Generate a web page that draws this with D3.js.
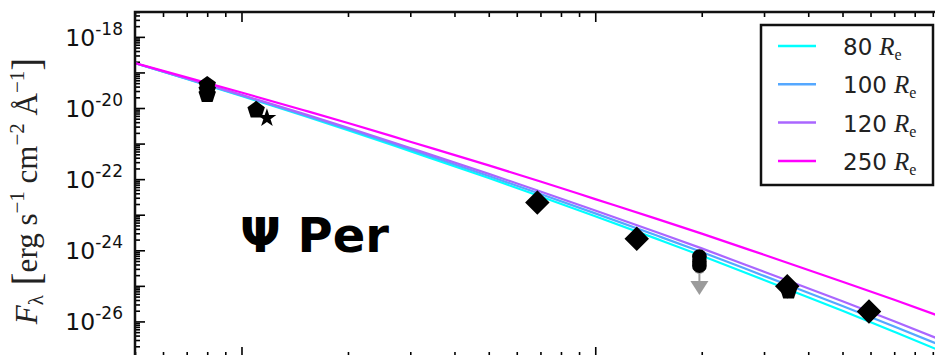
<!DOCTYPE html>
<html>
<head>
<meta charset="utf-8">
<script src="https://cdn.jsdelivr.net/npm/d3@7"></script>
<style>
  body { margin: 0; background: #fff; }
  svg { display: block; }
</style>
</head>
<body>
<svg id="chart" width="935" height="355"></svg>
<script>
// model wavelengths (cm) and model fluxes for each disk size
var modelWave = [0.05, 0.07, 0.1, 0.15, 0.2, 0.3, 0.5, 0.7, 1, 1.5, 2, 3, 5, 7, 10]
var model80 = [1.82e-19, 6.58e-20, 2.18e-20, 6.05e-21, 2.39e-21, 6.12e-22, 1.08e-22, 3.27e-23, 9.08e-24, 2.06e-24, 7.06e-25, 1.46e-25, 2.00e-26, 5.12e-27, 1.18e-27]
var model100 = [1.82e-19, 6.68e-20, 2.26e-20, 6.43e-21, 2.58e-21, 6.79e-22, 1.23e-22, 3.84e-23, 1.09e-23, 2.55e-24, 8.93e-25, 1.91e-25, 2.72e-26, 7.18e-27, 1.71e-27]
var model120 = [1.82e-19, 6.79e-20, 2.34e-20, 6.84e-21, 2.79e-21, 7.53e-22, 1.41e-22, 4.50e-23, 1.31e-23, 3.15e-24, 1.13e-24, 2.50e-25, 3.71e-26, 1.01e-26, 2.47e-27]
var model250 = [1.82e-19, 7.29e-20, 2.72e-20, 8.67e-21, 3.80e-21, 1.13e-21, 2.44e-22, 8.57e-23, 2.75e-23, 7.53e-24, 2.94e-24, 7.48e-25, 1.31e-25, 4.06e-26, 1.13e-26]
var seriesNames = ['80', '100', '120', '250']
var seriesColors = ['#00ffff', '#55a8ff', '#aa66ff', '#ff00ff']

// observed points
var obsWave = [0.080, 0.080, 0.080, 0.110, 0.118, 0.686, 1.31, 1.97, 1.97, 1.97, 3.49, 3.52, 5.94]
var obsFlux = [4.4e-20, 3.2e-20, 2.4e-20, 8.8e-21, 5.2e-21, 2.2e-23, 2.1e-24, 6.6e-25, 4.8e-25, 3.7e-25, 9.8e-26, 7.1e-26, 1.9e-26]
var obsMarker = ['pentagon', 'pentagon', 'pentagon', 'pentagon', 'star', 'diamond', 'diamond',
  'circle', 'circle', 'circle', 'diamond', 'pentagon', 'diamond']

// upper limit
var limWave = [1.97]
var limFlux = [3.2e-25]

var yLabelTicks = [1e-18, 1e-20, 1e-22, 1e-24, 1e-26]

var svg = d3.select('#chart')
var margin = { left: 135, right: 949, top: 12, bottom: 357 }

var x = d3.scaleLog().domain([0.05, 10]).range([margin.left, margin.right])
var y = d3.scaleLog().domain([1e-27, 5e-18]).range([margin.bottom, margin.top])

const isMajor = v => Math.abs(Math.log10(v) - Math.round(Math.log10(v))) < 1e-6

// ticks point inward on every side
function addTicks(axisFn, scale, transform, values, size) {
  svg.append('g').attr('transform', transform)
    .call(axisFn(scale).tickValues(values).tickSize(size).tickFormat(''))
    .call(g => g.select('.domain').remove())
    .selectAll('line').attr('stroke', '#000').attr('stroke-width', 1.6)
}
var xt = x.ticks(), yt = y.ticks(20)
var xMinor = xt.filter(v => !isMajor(v)), xMajor = xt.filter(isMajor)
var yMinor = yt.filter(v => !isMajor(v)), yMajor = yt.filter(isMajor)

addTicks(d3.axisTop, x, 'translate(0,' + margin.top + ')', xMinor, -5)
addTicks(d3.axisTop, x, 'translate(0,' + margin.top + ')', xMajor, -10)
addTicks(d3.axisBottom, x, 'translate(0,' + margin.bottom + ')', xMinor, -5)
addTicks(d3.axisBottom, x, 'translate(0,' + margin.bottom + ')', xMajor, -10)
addTicks(d3.axisLeft, y, 'translate(' + margin.left + ',0)', yMinor, -5)
addTicks(d3.axisLeft, y, 'translate(' + margin.left + ',0)', yMajor, -10)

// tick labels 10^-n
var labels = svg.append('g')
  .attr('font-family', 'DejaVu Sans, sans-serif')
  .attr('fill', '#111')
labels.selectAll('text').data(yLabelTicks).enter().append('text')
  .attr('x', margin.left - 12)
  .attr('y', d => y(d) + 9)
  .attr('text-anchor', 'end')
  .each(function (d) {
    var t = d3.select(this)
    t.append('tspan').attr('font-size', 23.5).text('10')
    t.append('tspan').attr('font-size', 17).attr('dy', -11).text(Math.round(Math.log10(d)))
  })

// y axis title
var ytitle = svg.append('text')
  .attr('transform', 'translate(37,191) rotate(-90)')
  .attr('text-anchor', 'middle')
  .attr('font-family', 'Liberation Serif, DejaVu Serif, serif')
  .attr('font-size', 31)
  .attr('fill', '#222')
ytitle.append('tspan').attr('font-style', 'italic').text('F')
ytitle.append('tspan').attr('font-size', 21).attr('dy', 6).text('λ')
ytitle.append('tspan').attr('font-size', 39).attr('dy', -3).text(' [')
ytitle.append('tspan').attr('dy', -3).text('erg s')
ytitle.append('tspan').attr('font-size', 21).attr('dy', -13).text('−1')
ytitle.append('tspan').attr('dy', 13).text(' cm')
ytitle.append('tspan').attr('font-size', 21).attr('dy', -13).text('−2')
ytitle.append('tspan').attr('dy', 13).text(' Å')
ytitle.append('tspan').attr('font-size', 21).attr('dy', -13).text('−1')
ytitle.append('tspan').attr('font-size', 39).attr('dy', 16).text(']')

// clip region
svg.append('clipPath').attr('id', 'clip')
  .append('rect').attr('x', margin.left).attr('y', margin.top)
  .attr('width', margin.right - margin.left).attr('height', margin.bottom - margin.top)

var models = [model80, model100, model120, model250]
var line = d3.line().x(d => x(d[0])).y(d => y(d[1])).curve(d3.curveMonotoneX)
svg.append('g').attr('clip-path', 'url(#clip)')
  .selectAll('path').data(models).enter().append('path')
  .attr('d', m => line(modelWave.map((w, i) => [w, m[i]])))
  .attr('fill', 'none')
  .attr('stroke', (m, i) => seriesColors[i])
  .attr('stroke-width', 2.2)

// upper limit arrow (grey)
var lim = svg.append('g').attr('fill', '#8a8a8a').attr('stroke', '#8a8a8a').attr('opacity', 0.85)
limWave.forEach((w, i) => {
  var cx = x(w), cy = y(limFlux[i])
  lim.append('line').attr('x1', cx).attr('x2', cx).attr('y1', cy).attr('y2', cy + 16).attr('stroke-width', 2)
  lim.append('path').attr('stroke', 'none')
    .attr('d', 'M' + (cx - 9) + ',' + (cy + 13) + 'L' + (cx + 9) + ',' + (cy + 13) + 'L' + cx + ',' + (cy + 27) + 'Z')
  lim.append('circle').attr('cx', cx).attr('cy', cy).attr('r', 6).attr('stroke', 'none')
})

// markers
var pentagon = {
  draw: function (ctx, size) {
    var r = Math.sqrt(size / 2.378)
    for (var k = 0; k < 5; k++) {
      var a = -Math.PI / 2 + k * 2 * Math.PI / 5
      if (k === 0) ctx.moveTo(r * Math.cos(a), r * Math.sin(a))
      else ctx.lineTo(r * Math.cos(a), r * Math.sin(a))
    }
    ctx.closePath()
  }
}
const markerPath = {
  pentagon: d3.symbol(pentagon, 200)(),
  star: d3.symbol(d3.symbolStar, 110)(),
  diamond: d3.symbol(d3.symbolSquare, 300)(),
  circle: d3.symbol(d3.symbolCircle, 170)()
}
svg.append('g').selectAll('path').data(obsWave).enter().append('path')
  .attr('d', (w, i) => markerPath[obsMarker[i]])
  .attr('transform', (w, i) => 'translate(' + x(w) + ',' + y(obsFlux[i]) + ')' + (obsMarker[i] === 'diamond' ? ' rotate(45)' : ''))
  .attr('fill', '#000')

// frame
svg.append('rect')
  .attr('x', margin.left).attr('y', margin.top)
  .attr('width', margin.right - margin.left).attr('height', margin.bottom - margin.top)
  .attr('fill', 'none').attr('stroke', '#111').attr('stroke-width', 2.5)

// star name
svg.append('text')
  .attr('x', 240).attr('y', 252)
  .attr('font-family', 'DejaVu Sans, sans-serif')
  .attr('font-weight', 'bold')
  .attr('font-size', 48)
  .text('Ψ Per')

// legend
var lg = svg.append('g')
lg.append('rect').attr('x', 761).attr('y', 25).attr('width', 172).attr('height', 160)
  .attr('fill', '#fff').attr('stroke', '#111').attr('stroke-width', 2.5)
seriesNames.forEach((name, i) => {
  var ly = 46 + i * 38.3
  lg.append('line').attr('x1', 778).attr('x2', 816).attr('y1', ly).attr('y2', ly)
    .attr('stroke', seriesColors[i]).attr('stroke-width', 2.5)
  var t = lg.append('text').attr('x', 843).attr('y', ly + 9).attr('fill', '#222')
  t.append('tspan').attr('font-family', 'DejaVu Sans, sans-serif').attr('font-size', 23).text(name)
  t.append('tspan').attr('font-family', 'Liberation Serif, serif').attr('font-style', 'italic')
    .attr('font-size', 25).attr('dx', 7).text('R')
  t.append('tspan').attr('font-family', 'Liberation Serif, serif').attr('font-size', 16).attr('dy', 5).text('e')
})
</script>
</body>
</html>
